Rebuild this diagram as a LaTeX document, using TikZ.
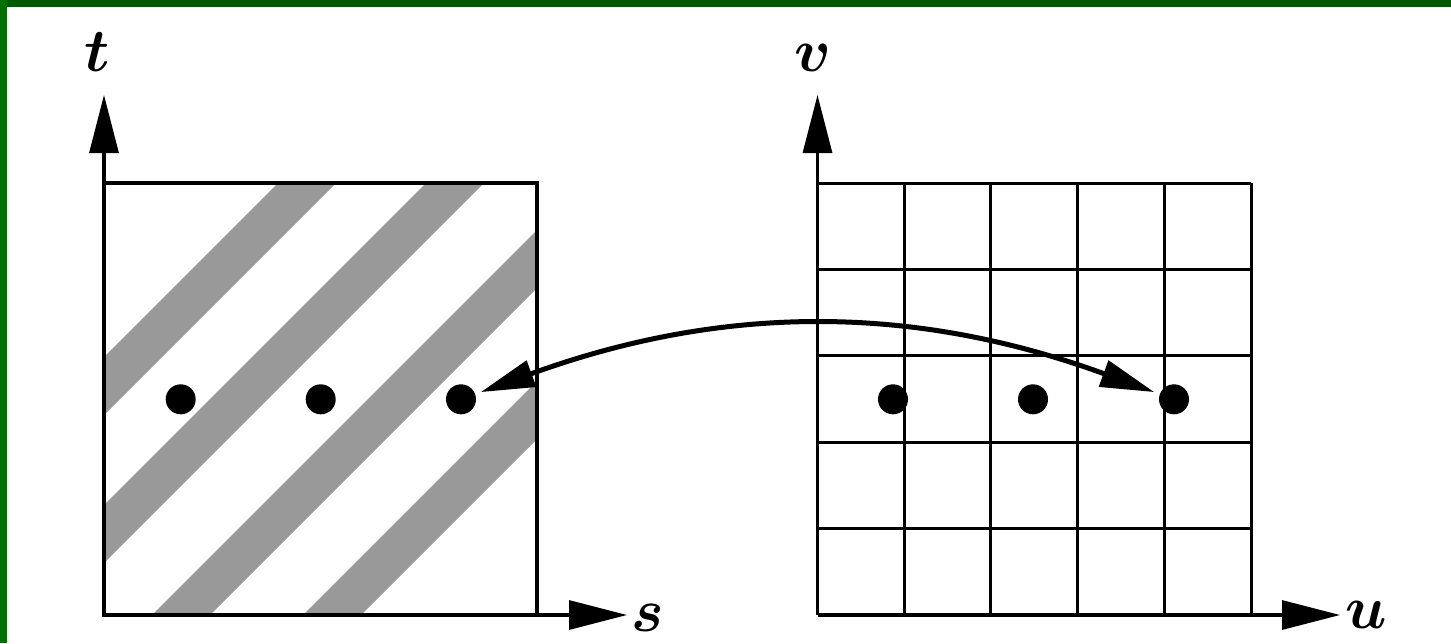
\documentclass[tikz,border=0pt]{standalone}
\usetikzlibrary{arrows.meta}
\definecolor{stripe}{RGB}{153,153,153}
\definecolor{frametop}{RGB}{0,88,0}
\definecolor{frameleft}{RGB}{0,112,0}
\begin{document}
\begin{tikzpicture}[x=1pt,y=-1pt,
 axis/.style={line width=3.2pt,-{Triangle[length=58pt,width=29pt]}},
 boxline/.style={line width=3.2pt},
 gridline/.style={line width=3pt},
 dot/.style={circle,fill=black,minimum size=30pt,inner sep=0pt,outer sep=6pt},
 lab/.style={inner sep=0pt,scale=6.1,font=\boldmath},
 link/.style={line width=5pt,{Triangle[length=54pt,width=27pt]}-{Triangle[length=54pt,width=27pt]}}]
\useasboundingbox (0,0) rectangle (1451,643);
\fill[white] (0,0) rectangle (1451,643);
\fill[frametop] (0,0) rectangle (1451,7);
\fill[frameleft] (0,0) rectangle (7,643);
% stripes
\begin{scope}
\clip (104,183) rectangle (537,615);
\foreach \a in {461,609,767,918} {
  \fill[stripe] (\a-100,100) -- (\a-700,700) -- (\a-642,700) -- (\a-42,100) -- cycle;
}
\end{scope}
\draw[boxline] (104,183) rectangle (537,615);
% left axes
\coordinate (o1) at (104,615);
\coordinate (t1) at (104,95);
\coordinate (s1) at (627,615);
\draw[axis] (o1) -- (t1);
\draw[axis] (o1) -- (s1);
% right grid
\foreach \i in {0,...,5} {
  \draw[gridline] (817.5+86.7*\i,183) -- (817.5+86.7*\i,615);
  \draw[gridline] (817.5,183+86.4*\i) -- (1251,183+86.4*\i);
}
\coordinate (o2) at (817.5,615);
\coordinate (v2) at (817.5,95);
\coordinate (u2) at (1340,615);
\draw[axis] (o2) -- (v2);
\draw[axis] (o2) -- (u2);
% labels
\node[lab] (lt) at (97,52) {$t$};
\node[lab] (ls) at (648,618) {$s$};
\node[lab] (lv) at (813,58) {$v$};
\node[lab] (lu) at (1366,615) {$u$};
% dots
\node[dot] (l1) at (180.7,399.3) {};
\node[dot] (l2) at (320.7,399.3) {};
\node[dot] (l3) at (461,399.3) {};
\node[dot] (r1) at (893,399.3) {};
\node[dot] (r2) at (1033,399.3) {};
\node[dot] (r3) at (1174,399.3) {};
% link
\coordinate (c1) at (722.7,304);
\coordinate (c2) at (913.3,304);
\draw[link] (l3) .. controls (c1) and (c2) .. (r3);
\end{tikzpicture}
\end{document}
